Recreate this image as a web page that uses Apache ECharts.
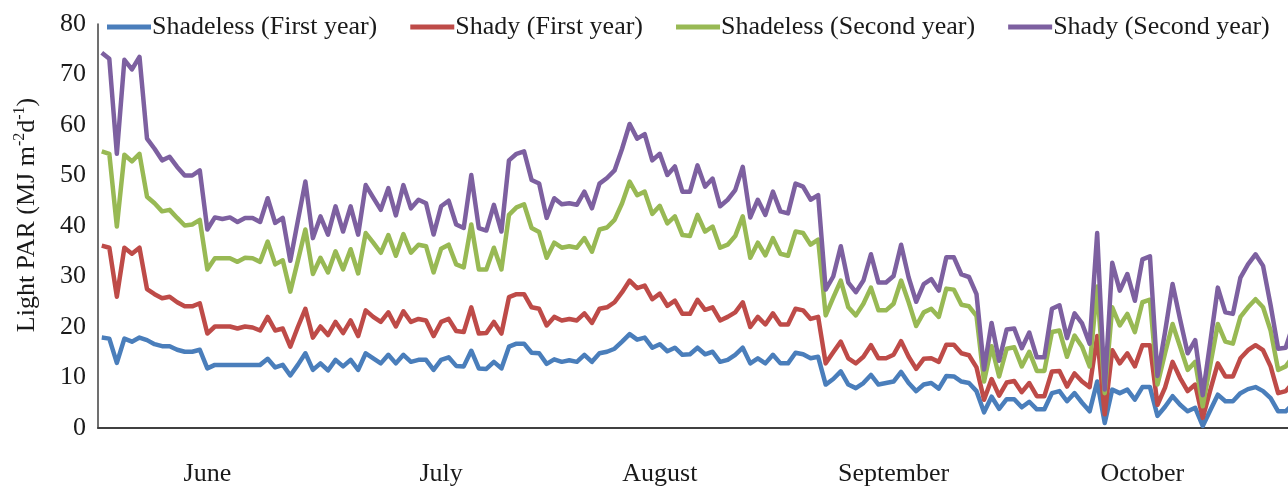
<!DOCTYPE html>
<html>
<head>
<meta charset="utf-8">
<script src="https://cdn.jsdelivr.net/npm/echarts@6/dist/echarts.min.js"></script>
<style>
  html, body { margin: 0; padding: 0; background: #fff; overflow: hidden; }
  /* the plot runs a few pixels past the right edge of the page */
  #chart { width: 1297px; height: 487px; }
</style>
</head>
<body>
<div id="chart"></div>
<script>
// Daily light PAR (MJ m-2 d-1), June through October
const shadelessFirst = [
  17.9,17.7,12.9,17.7,17.1,17.9,17.4,16.6,16.2,16.2,15.5,15.1,15.1,15.5,11.8,12.5,12.5,12.5,12.5,12.5,
  12.5,12.5,13.7,12.0,12.5,10.4,12.5,14.8,11.5,12.8,11.4,13.5,12.2,13.5,11.5,14.8,13.8,12.8,14.5,12.8,
  14.5,13.1,13.5,13.5,11.5,13.5,14.0,12.3,12.2,15.3,11.8,11.7,13.1,11.8,16.1,16.7,16.7,14.9,14.8,12.7,
  13.6,13.1,13.4,13.1,14.5,13.1,14.8,15.1,15.7,17.1,18.6,17.5,17.9,15.9,16.6,15.2,15.9,14.5,14.6,15.9,
  14.6,15.1,13.1,13.5,14.5,15.9,12.8,13.8,12.8,14.5,12.8,12.8,14.9,14.6,13.8,14.1,8.6,9.7,11.2,8.6,
  7.9,8.9,10.5,8.6,8.9,9.2,11.1,8.9,7.3,8.6,8.9,7.8,10.3,10.2,9.2,8.9,7.3,3.1,6.2,3.8,
  5.7,5.7,4.1,5.2,3.7,3.7,6.9,7.3,5.3,6.9,5.0,3.3,9.2,1.0,7.6,6.9,7.6,5.6,8.1,8.1,
  2.4,4.2,6.3,4.6,3.3,4.0,0.4,3.5,6.6,5.3,5.3,6.9,7.7,8.1,7.3,5.9,3.3,3.3,4.8
];
const shadyFirst = [
  36.1,35.7,26.0,35.7,34.5,35.7,27.5,26.5,25.7,26.0,24.9,24.1,24.1,24.7,18.7,20.1,20.1,20.1,19.7,20.1,
  19.9,19.3,22.0,19.3,19.7,16.1,20.0,23.6,17.9,20.1,18.4,21.0,18.8,21.3,18.2,23.3,22.0,21.0,22.9,20.1,
  23.1,21.0,21.6,21.3,18.2,21.0,21.6,19.2,19.0,23.9,18.7,18.8,21.0,18.7,25.9,26.5,26.5,23.9,23.6,20.3,
  22.0,21.3,21.6,21.3,22.7,20.8,23.6,23.9,24.9,26.9,29.2,27.7,28.2,25.5,26.6,24.2,25.2,22.6,22.6,25.4,
  23.4,23.9,21.3,22.0,22.9,24.9,20.0,22.0,20.5,22.7,20.5,20.5,23.6,23.3,21.6,22.0,12.8,15.0,17.1,13.8,
  12.8,14.1,16.4,13.8,13.8,14.5,17.2,14.1,11.7,13.7,13.8,13.1,16.5,16.5,14.8,14.4,12.0,5.6,9.7,6.4,
  9.0,9.3,7.1,8.9,6.3,6.3,11.2,11.3,8.2,10.8,9.2,8.1,18.2,2.7,15.4,12.8,14.8,12.2,16.4,16.4,
  4.6,8.0,13.1,9.9,7.3,8.6,2.0,7.5,12.8,10.2,10.2,13.8,15.4,16.4,15.4,12.2,6.9,7.3,9.0
];
const shadelessSecond = [
  54.8,54.3,39.9,54.1,52.8,54.3,45.8,44.5,42.9,43.2,41.6,40.1,40.3,41.2,31.4,33.6,33.6,33.6,32.9,33.7,
  33.6,32.9,36.9,32.4,33.2,27.0,33.1,39.3,30.5,33.7,30.8,35.0,31.4,35.4,30.6,38.6,36.7,34.7,38.2,34.1,
  38.4,34.7,36.3,36.0,30.8,35.5,36.3,32.4,31.8,40.3,31.4,31.4,35.7,31.4,42.2,43.7,44.3,39.6,38.8,33.7,
  36.7,35.7,36.0,35.7,37.6,34.9,39.3,39.7,41.2,44.5,48.8,46.1,46.8,42.4,44.0,40.5,41.9,38.2,38.0,42.2,
  38.9,39.9,35.7,36.3,38.0,41.9,33.7,36.7,34.2,37.6,34.5,34.1,38.9,38.6,36.3,37.3,22.3,25.8,29.2,23.9,
  22.3,24.6,27.8,23.3,23.3,24.6,29.2,24.9,20.2,22.9,23.6,22.0,27.6,27.4,24.4,24.1,22.2,9.2,16.2,10.2,
  15.7,16.0,12.2,15.1,11.3,11.3,19.0,19.3,14.1,18.3,16.1,12.2,28.0,6.9,23.9,20.3,22.6,19.0,24.9,25.4,
  8.6,14.8,20.6,16.1,11.5,13.1,4.3,12.5,20.6,17.1,16.7,22.0,23.9,25.5,23.9,19.3,11.5,12.2,14.2
];
const shadySecond = [
  74.3,73.1,54.3,72.9,71.0,73.5,57.3,55.3,53.0,53.7,51.7,50.0,50.0,51.0,39.3,41.7,41.4,41.7,40.8,41.6,
  41.6,40.8,45.5,40.6,41.6,33.1,41.0,48.8,37.6,41.9,38.3,43.9,38.9,43.9,38.3,48.1,45.6,43.2,47.5,42.1,
  48.1,43.5,45.2,44.5,38.3,43.9,45.0,40.3,39.6,50.1,39.6,39.1,44.2,38.9,53.0,54.3,54.8,49.1,48.4,41.6,
  45.5,44.3,44.5,44.2,46.8,43.5,48.4,49.5,51.0,55.3,60.2,57.3,58.2,53.0,54.3,50.1,51.8,46.8,46.8,52.0,
  47.8,49.4,43.9,45.2,47.1,51.7,41.7,45.2,42.2,46.8,42.9,42.5,48.4,47.8,45.2,46.1,27.4,30.0,36.0,28.8,
  26.9,29.2,34.4,28.8,28.8,30.1,36.3,29.8,25.0,28.5,29.5,27.2,33.8,33.8,30.4,29.9,26.5,11.6,20.8,13.3,
  19.5,19.7,15.8,18.9,14.0,14.0,23.6,24.3,17.8,22.7,20.7,16.7,38.6,7.6,32.7,27.2,30.5,25.2,33.4,34.0,
  10.3,19.0,28.5,21.5,14.8,17.4,6.5,17.0,27.8,22.9,22.6,29.8,32.4,34.4,32.1,24.3,15.7,15.9,20.5
];

// Month names and the day (category index) under which each one is written
const monthNames = ['June', 'July', 'August', 'September', 'October'];
const monthDays = [14, 45, 74, 105, 138];

const seriesNames = [
  'Shadeless (First year)', 'Shady (First year)',
  'Shadeless (Second year)', 'Shady (Second year)'
];
const seriesColors = ['#4A7EBB', '#BE4B48', '#98B954', '#7D60A0'];
const seriesData = [shadelessFirst, shadyFirst, shadelessSecond, shadySecond];

const days = shadelessFirst.map((_, i) => String(i));
const FONT = '"Liberation Serif", "Times New Roman", serif';
const FS = 26;

const chart = echarts.init(document.getElementById('chart'), null, { renderer: 'canvas' });
chart.setOption({
  animation: false,
  backgroundColor: '#ffffff',
  textStyle: { fontFamily: FONT },
  legend: {
    top: 14,
    left: 107,
    padding: 0,
    itemWidth: 44,
    itemHeight: 5,
    itemGap: 33,
    icon: 'rect',
    textStyle: { fontFamily: FONT, fontSize: FS, color: '#1a1a1a', padding: [0, 0, 0, -4] },
    data: seriesNames
  },
  grid: { left: 98, right: 0, top: 24, bottom: 55, containLabel: false },
  xAxis: {
    type: 'category',
    boundaryGap: true,
    data: days,
    axisLine: { show: true, lineStyle: { color: '#404040', width: 2 } },
    axisTick: { show: false },
    splitLine: { show: false },
    axisLabel: {
      margin: 33,
      fontFamily: FONT,
      fontSize: FS,
      color: '#1a1a1a',
      interval: (i) => monthDays.indexOf(i) !== -1,
      formatter: (v, i) => {
        const k = monthDays.indexOf(i);
        return k === -1 ? '' : monthNames[k];
      }
    }
  },
  yAxis: {
    type: 'value',
    min: 0,
    max: 80,
    interval: 10,
    axisLine: { show: true, lineStyle: { color: '#404040', width: 1.5 } },
    axisTick: { show: false },
    splitLine: { show: false },
    axisLabel: { margin: 12, fontFamily: FONT, fontSize: FS, color: '#1a1a1a' },
    name: '{a|Light PAR (MJ m}{s|-2}{a|d}{s|-1}{a|)}',
    nameLocation: 'middle',
    nameGap: 58,
    nameTextStyle: {
      fontFamily: FONT,
      color: '#1a1a1a',
      padding: [0, 0, 0, 22],
      rich: {
        a: { fontFamily: FONT, fontSize: FS, color: '#1a1a1a', lineHeight: 28, verticalAlign: 'bottom' },
        s: { fontFamily: FONT, fontSize: 16, color: '#1a1a1a', lineHeight: 16, verticalAlign: 'top' }
      }
    }
  },
  series: seriesData.map((d, k) => ({
    name: seriesNames[k],
    type: 'line',
    data: d,
    showSymbol: false,
    symbol: 'none',
    smooth: false,
    color: seriesColors[k],
    lineStyle: { width: 4.5, color: seriesColors[k], join: 'round' },
    z: 2 + k
  }))
});
</script>
</body>
</html>
